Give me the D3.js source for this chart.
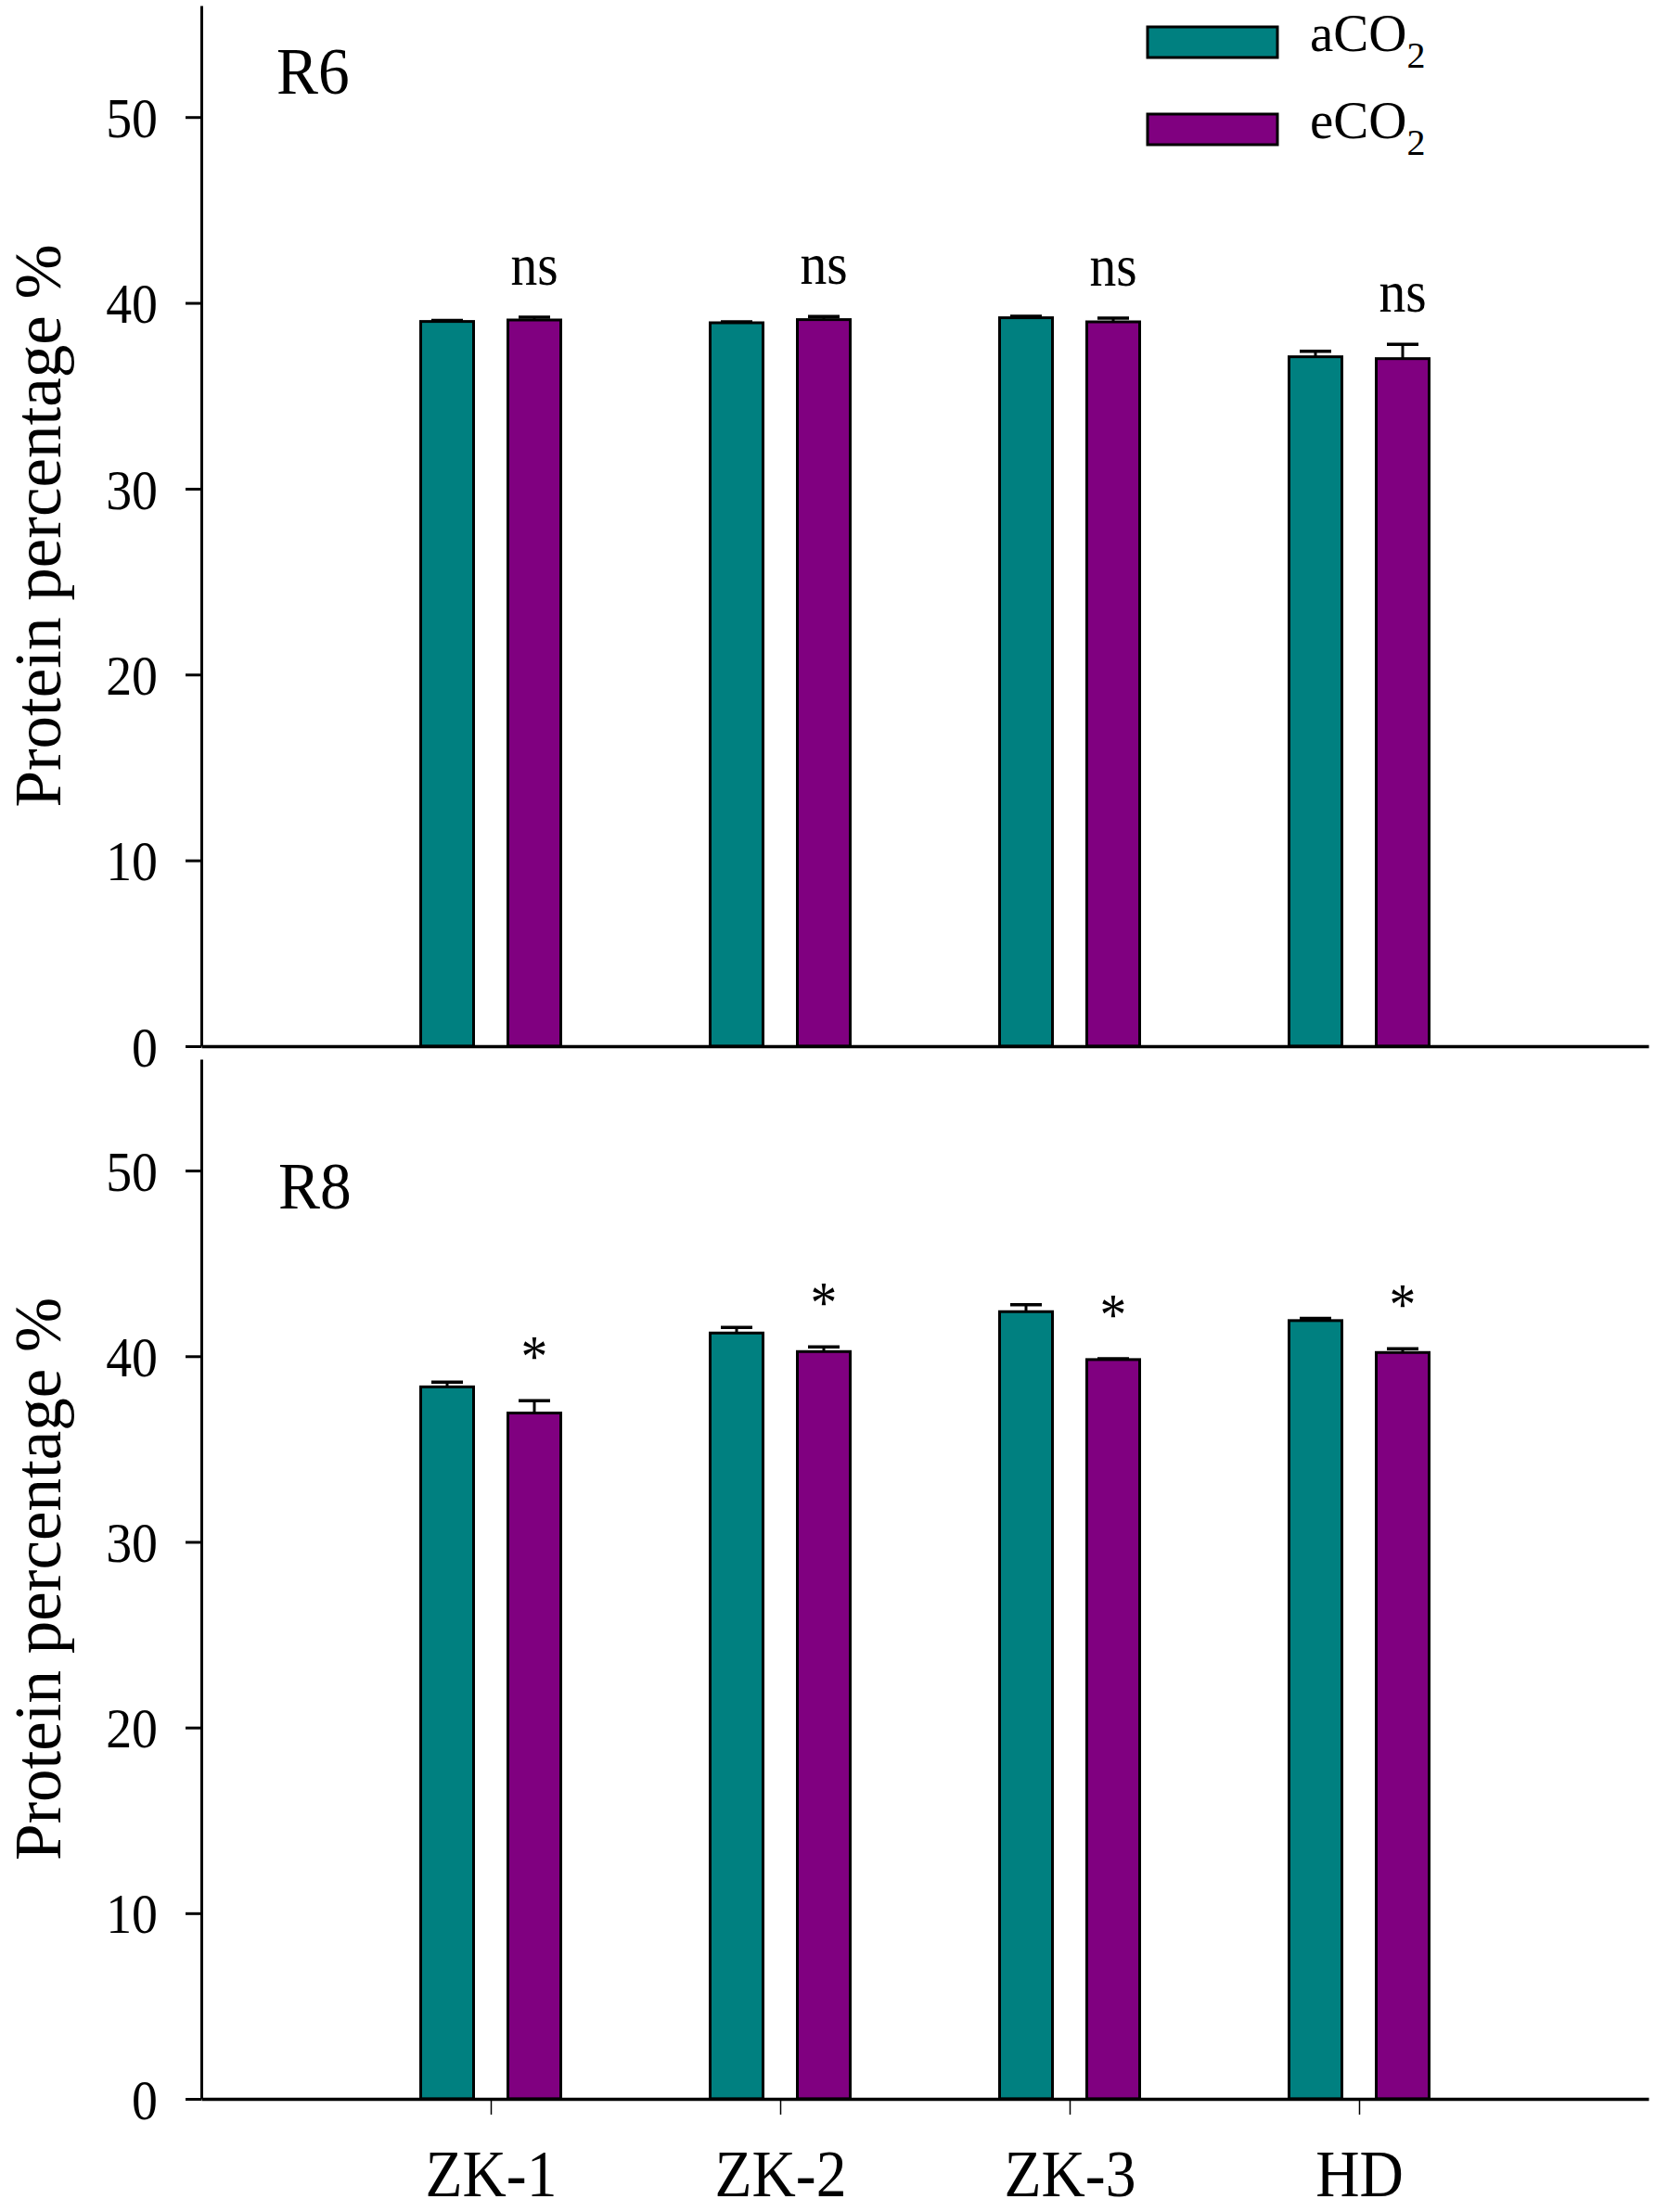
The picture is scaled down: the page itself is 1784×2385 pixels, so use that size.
<!DOCTYPE html>
<html>
<head>
<meta charset="utf-8">
<script src="https://cdnjs.cloudflare.com/ajax/libs/d3/7.8.5/d3.min.js"></script>
<style>
body{margin:0;background:#fff;}
svg{display:block;background:#fff;}
text{font-family:"Liberation Serif","Times New Roman",serif;fill:#000;}
</style>
</head>
<body>
<div id="container"></div>
<script>
// data
var categories = ['ZK-1', 'ZK-2', 'ZK-3', 'HD'];
var yTicks = [0, 10, 20, 30, 40, 50];
var yMax = 56;

var r6Ambient = [39.0, 38.93, 39.2, 37.1];
var r6AmbientErr = [0.05, 0.05, 0.08, 0.3];
var r6Elevated = [39.08, 39.1, 38.98, 37.0];
var r6ElevatedErr = [0.15, 0.17, 0.2, 0.77];
var r6Sig = ['ns', 'ns', 'ns', 'ns'];

var r8Ambient = [38.35, 41.25, 42.4, 41.92];
var r8AmbientErr = [0.25, 0.3, 0.37, 0.12];
var r8Elevated = [36.94, 40.25, 39.82, 40.2];
var r8ElevatedErr = [0.67, 0.25, 0.05, 0.2];
var r8Sig = ['*', '*', '*', '*'];

var legendNames = ['aCO', 'eCO'];
var colors = ['#008080', '#800080'];

var width = 1784, height = 2385;
var svg = d3.select('#container')
    .append('svg')
    .attr('width', width)
    .attr('height', height);

var x = d3.scalePoint()
    .domain(categories)
    .range([217, 1777])
    .padding(1);

var barW = 57, barOff = 47, capW = 34;

function drawPanel(top, bottom, aVals, aErr, eVals, eErr, sig, sigGap, sigSize, name, nameX, nameY, showLabels){
    var y = d3.scaleLinear().domain([0, yMax]).range([bottom, top]);
    var g = svg.append('g');
    var series = [
        {vals: aVals, err: aErr, color: colors[0], off: -barOff},
        {vals: eVals, err: eErr, color: colors[1], off: barOff}
    ];
    var i, j;
    for(i = 0; i < series.length; i++){
        var s = series[i];
        for(j = 0; j < categories.length; j++){
            var cx = x(categories[j]) + s.off;
            var v = s.vals[j], e = s.err[j];
            g.append('rect')
                .attr('x', cx - barW/2)
                .attr('y', y(v))
                .attr('width', barW)
                .attr('height', y(0) - y(v))
                .attr('fill', s.color)
                .attr('stroke', '#000')
                .attr('stroke-width', 3);
            g.append('line')
                .attr('x1', cx).attr('x2', cx)
                .attr('y1', y(v)).attr('y2', y(v + e))
                .attr('stroke', '#000').attr('stroke-width', 3);
            g.append('line')
                .attr('x1', cx - capW/2).attr('x2', cx + capW/2)
                .attr('y1', y(v + e)).attr('y2', y(v + e))
                .attr('stroke', '#000').attr('stroke-width', 3.5);
        }
    }
    // significance marks over the eCO2 bars
    for(j = 0; j < categories.length; j++){
        var sx = x(categories[j]) + barOff;
        var sy = y(eVals[j] + eErr[j]) - sigGap;
        g.append('text')
            .attr('transform', 'translate(' + sx + ',' + sy + ') scale(0.9,1)')
            .attr('text-anchor', 'middle')
            .attr('font-size', sigSize)
            .text(sig[j]);
    }

    // y axis
    var yAxis = g.append('g')
        .attr('transform', 'translate(217,0)')
        .call(d3.axisLeft(y).tickValues(yTicks).tickSize(17).tickSizeOuter(0).tickPadding(30));
    yAxis.select('.domain').attr('stroke-width', 3);
    yAxis.selectAll('.tick line').attr('stroke-width', 3);
    yAxis.selectAll('.tick text')
        .attr('font-family', '"Liberation Serif","Times New Roman",serif')
        .attr('font-size', 62)
        .attr('x', -47/0.9)
        .attr('dy', '0.34em')
        .attr('transform', 'scale(0.9,1)');

    // x axis
    var xAxis = g.append('g')
        .attr('transform', 'translate(0,' + bottom + ')')
        .call(d3.axisBottom(x).tickSize(17).tickSizeOuter(0).tickValues(showLabels ? categories : []));
    xAxis.select('.domain').attr('stroke-width', 3.5);
    xAxis.selectAll('.tick line').attr('stroke-width', 1.5);
    xAxis.selectAll('.tick text')
        .attr('font-family', '"Liberation Serif","Times New Roman",serif')
        .attr('font-size', 72)
        .attr('y', 105)
        .attr('dy', 0)
        .attr('transform', 'scale(0.91,1)');

    // panel name
    g.append('text')
        .attr('transform', 'translate(' + nameX + ',' + nameY + ') scale(0.95,1)')
        .attr('font-size', 71)
        .text(name);

    // y title
    g.append('text')
        .attr('transform', 'translate(65,' + (top + bottom)/2 + ') rotate(-90)')
        .attr('text-anchor', 'middle')
        .attr('font-size', 71)
        .text('Protein percentage %');
}

drawPanel(6, 1128, r6Ambient, r6AmbientErr, r6Elevated, r6ElevatedErr, r6Sig, 35, 64, 'R6', 298, 101, false);
drawPanel(1142, 2263, r8Ambient, r8AmbientErr, r8Elevated, r8ElevatedErr, r8Sig, 26, 64, 'R8', 300, 1303, true);

// legend
var legend = svg.append('g');
for(var k = 0; k < legendNames.length; k++){
    var ly = 29 + k*94;
    legend.append('rect')
        .attr('x', 1237)
        .attr('y', ly)
        .attr('width', 140)
        .attr('height', 33)
        .attr('fill', colors[k])
        .attr('stroke', '#000')
        .attr('stroke-width', 3);
    var t = legend.append('text')
        .attr('x', 1412)
        .attr('y', ly + 26)
        .attr('font-size', 57)
        .text(legendNames[k]);
    t.append('tspan')
        .attr('font-size', 40)
        .attr('dy', 18)
        .text('2');
}
</script>
</body>
</html>
